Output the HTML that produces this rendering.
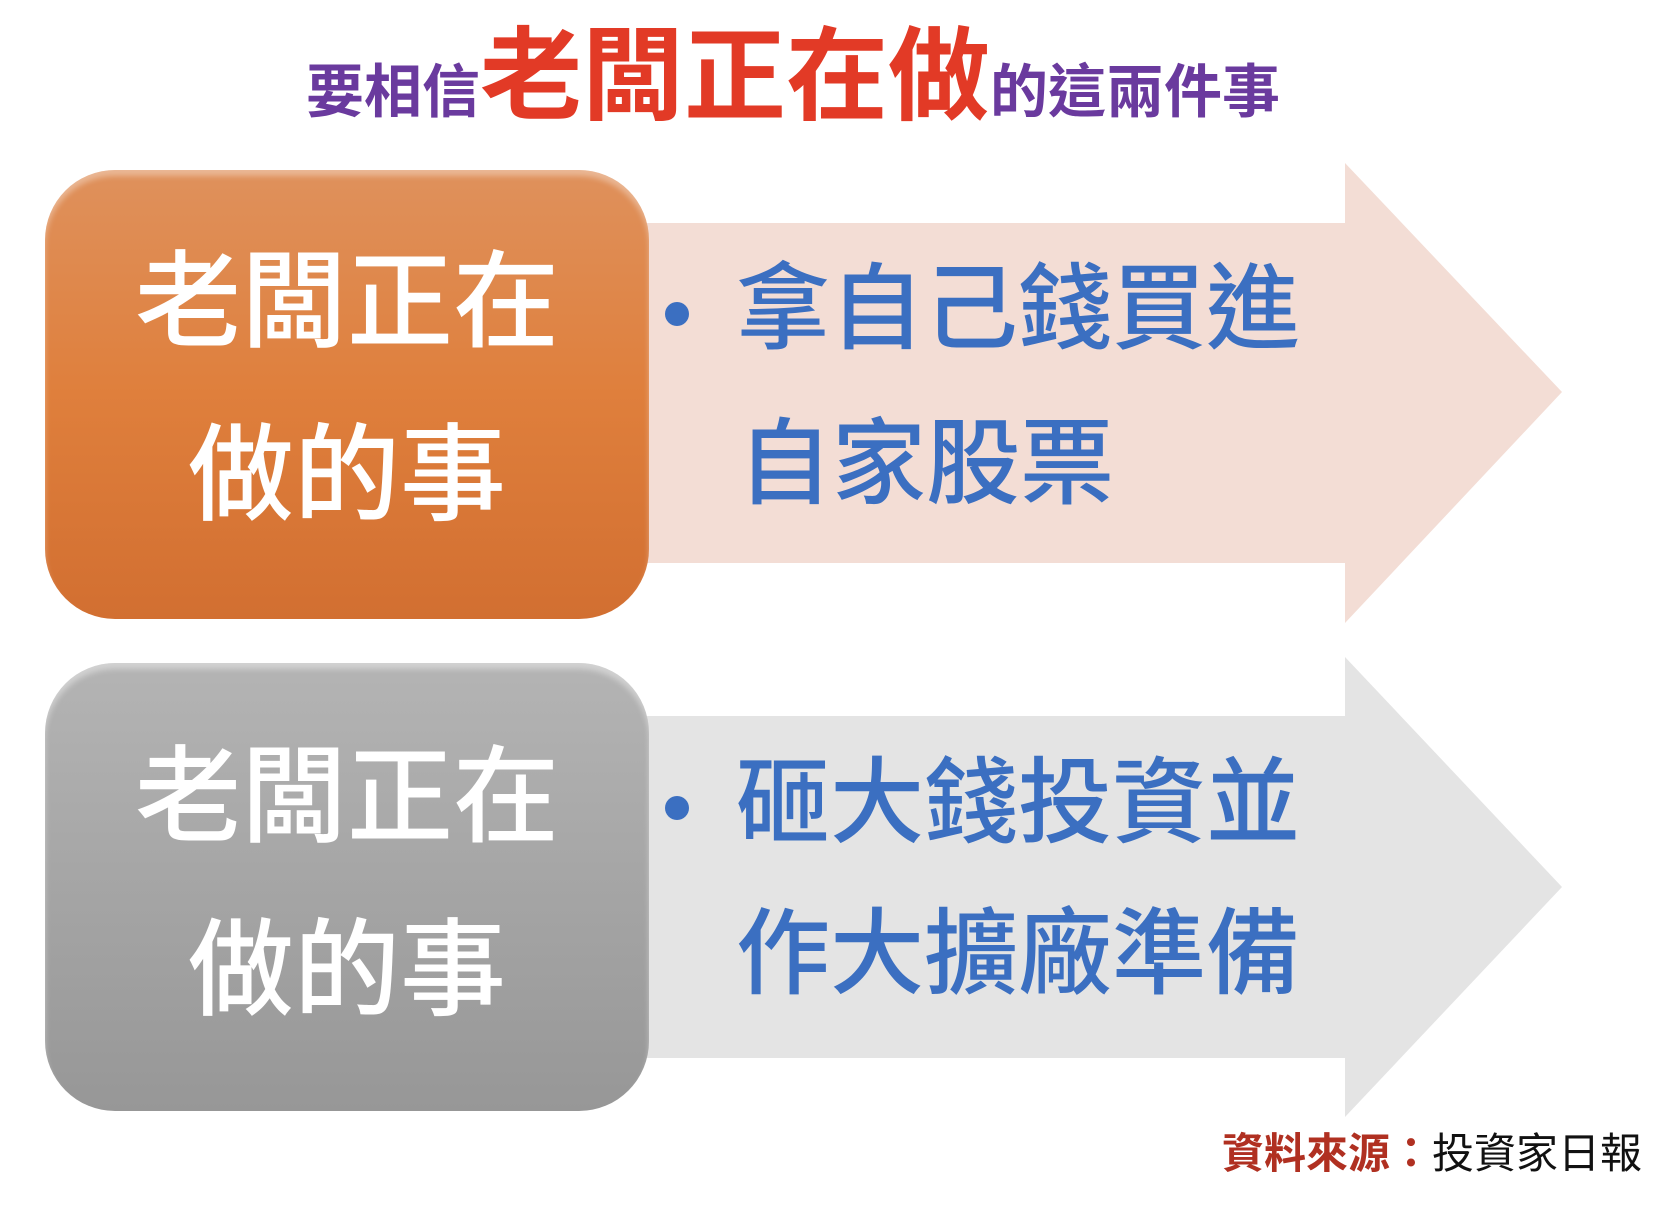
<!DOCTYPE html>
<html><head><meta charset="utf-8"><style>
html,body{margin:0;padding:0;background:#fff;}
body{width:1676px;height:1206px;position:relative;overflow:hidden;font-family:"Liberation Sans","Noto Sans CJK TC",sans-serif;}
.abs{position:absolute;white-space:nowrap;}
.box{position:absolute;border-radius:70px;}
.bt{position:absolute;left:0;width:100%;text-align:center;color:#fff;font-weight:500;font-size:106px;line-height:1;}
.rt{position:absolute;color:#3b6fc1;font-weight:500;font-size:94px;line-height:1;}
.dot{position:absolute;width:24px;height:24px;border-radius:50%;background:#3b6fc1;}
</style></head><body>
<svg width="1676" height="1206" style="position:absolute;left:0;top:0">
<polygon points="640,223 1345,223 1345,163 1562,392 1345,623 1345,563 640,563" fill="#f3ddd5"/>
<polygon points="640,716 1345,716 1345,657 1562,887 1345,1117 1345,1058 640,1058" fill="#e4e4e4"/>
</svg>
<div class="box" style="left:45px;top:170px;width:604px;height:449px;background:linear-gradient(#df915c,#df7f3c 50%,#d26f31);box-shadow:inset 0 6px 6px rgba(255,255,255,.35)"></div>
<div class="box" style="left:45px;top:663px;width:604px;height:448px;background:linear-gradient(#b4b4b4,#a5a5a5 50%,#979797);box-shadow:inset 0 6px 6px rgba(255,255,255,.4)"></div>
<div class="abs" style="left:45px;top:170px;width:604px;height:449px">
 <div class="bt" style="top:80px">老闆正在</div>
 <div class="bt" style="top:253px">做的事</div>
</div>
<div class="abs" style="left:45px;top:663px;width:604px;height:448px">
 <div class="bt" style="top:82px">老闆正在</div>
 <div class="bt" style="top:255px">做的事</div>
</div>
<div class="dot" style="left:665px;top:302px"></div>
<div class="rt" style="left:736px;top:262px">拿自己錢買進</div>
<div class="rt" style="left:738px;top:417px">自家股票</div>
<div class="dot" style="left:665px;top:796px"></div>
<div class="rt" style="left:736px;top:756px">砸大錢投資並</div>
<div class="rt" style="left:736px;top:907px">作大擴廠準備</div>
<div class="abs" style="left:306px;top:26px;font-weight:bold;line-height:1;">
 <span style="color:#6a3a9e;font-size:58px">要相信</span><span style="color:#e23a26;font-size:102px">老闆正在做</span><span style="color:#6a3a9e;font-size:58px">的這兩件事</span>
</div>
<div class="abs" style="left:1222px;top:1133px;font-size:42px;line-height:1;">
 <span style="color:#b03021;font-weight:bold">資料來源：</span><span style="color:#111">投資家日報</span>
</div>
</body></html>
